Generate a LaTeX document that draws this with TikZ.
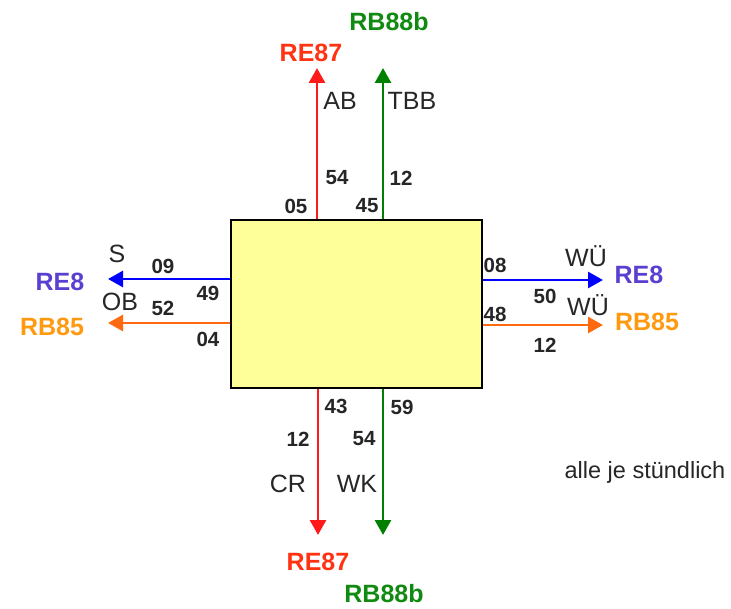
\documentclass[tikz,border=0pt]{standalone}
\usepackage{fontspec}
\setmainfont{Liberation Sans}
\usetikzlibrary{arrows.meta}
\definecolor{boxfill}{HTML}{FFFF99}
\definecolor{rline}{HTML}{FF1A1A}
\definecolor{gline}{HTML}{008000}
\definecolor{bline}{HTML}{0000FF}
\definecolor{oline}{HTML}{FF6A10}
\definecolor{rtext}{HTML}{FF3311}
\definecolor{gtext}{HTML}{108A10}
\definecolor{btext}{HTML}{5A3FD0}
\definecolor{otext}{HTML}{FF9A10}
\tikzset{
  stationbox/.style={draw=black, line width=1.2pt, fill=boxfill, minimum width=251pt, minimum height=168pt, inner sep=0pt},
  trainarrow/.style={line width=2.8pt, -{Triangle[length=15pt,width=16pt]}},
  minute/.style={font=\fontsize{20.5}{20.5}\selectfont\bfseries, inner sep=0pt, text=black!85},
  place/.style={font=\fontsize{25}{25}\selectfont, inner sep=0pt, text=black!85},
  linename/.style={font=\fontsize{25}{25}\selectfont\bfseries, inner sep=0pt},
  note/.style={font=\fontsize{23.5}{24}\selectfont, inner sep=0pt, text=black!85}
}
\begin{document}
\begin{tikzpicture}[x=1pt,y=-1pt]
\useasboundingbox (0,0) rectangle (731,609);
\node[stationbox] (box) at (356.5,304) {};
% arrow end points
\coordinate (rt) at (317,68);
\coordinate (gt) at (383,68);
\coordinate (rb) at (318,535);
\coordinate (gb) at (383,535);
\coordinate (bl) at (108,279);
\coordinate (ol) at (108,323);
\coordinate (br) at (603,280);
\coordinate (or) at (603,325);
% arrows
\draw[trainarrow, rline] (rt |- box.north) -- (rt);
\draw[trainarrow, gline] (gt |- box.north) -- (gt);
\draw[trainarrow, rline] (rb |- box.south) -- (rb);
\draw[trainarrow, gline] (gb |- box.south) -- (gb);
\draw[trainarrow, bline] (bl -| box.west) -- (bl);
\draw[trainarrow, oline] (ol -| box.west) -- (ol);
\draw[trainarrow, bline] (br -| box.east) -- (br);
\draw[trainarrow, oline] (or -| box.east) -- (or);
% top
\node[linename, text=rtext] (re87t) at (311,53) {RE87};
\node[linename, text=gtext] (rb88t) at (389,22) {RB88b};
\node[place] (ab) at (340,101) {AB};
\node[place] (tbb) at (412,101) {TBB};
\node[minute] (m54t) at (337,178) {54};
\node[minute] (m12t) at (401,178) {12};
\node[minute] (m05) at (296,206) {05};
\node[minute] (m45) at (367,206) {45};
% left
\node[place] (s) at (117,254) {S};
\node[minute] (m09) at (163,266) {09};
\node[linename, text=btext] (re8l) at (60,282) {RE8};
\node[minute] (m49) at (208,293) {49};
\node[place] (ob) at (120,302) {OB};
\node[minute] (m52) at (163,308) {52};
\node[linename, text=otext] (rb85l) at (52,327) {RB85};
\node[minute] (m04) at (208,339) {04};
% right
\node[minute] (m08) at (495,265) {08};
\node[place] (wu1) at (586,256) {WÜ};
\node[linename, text=btext] (re8r) at (639,275) {RE8};
\node[minute] (m50) at (545,296) {50};
\node[place] (wu2) at (588,305) {WÜ};
\node[minute] (m48) at (495,314) {48};
\node[linename, text=otext] (rb85r) at (647,322) {RB85};
\node[minute] (m12r) at (545,345) {12};
% bottom
\node[minute] (m43) at (336,406) {43};
\node[minute] (m59) at (402,407) {59};
\node[minute] (m12b) at (298,439) {12};
\node[minute] (m54b) at (364,439) {54};
\node[place] (cr) at (288,484) {CR};
\node[place] (wk) at (357,484) {WK};
\node[linename, text=rtext] (re87b) at (318,562) {RE87};
\node[linename, text=gtext] (rb88b) at (384,594) {RB88b};
% note
\node[note] (alle) at (645,472) {alle je stündlich};
\end{tikzpicture}
\end{document}
